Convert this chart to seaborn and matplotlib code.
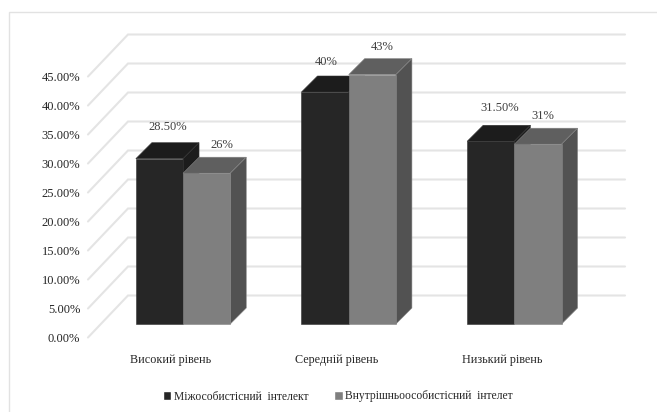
import pandas as pd
import matplotlib
matplotlib.use('Agg')
import matplotlib.pyplot as plt
import seaborn as sns
from matplotlib.patches import Polygon, Rectangle
from matplotlib.transforms import Affine2D

levels = ['Високий рівень', 'Середній рівень', 'Низький рівень']
interpersonal = [28.5, 40, 31.5]
intrapersonal = [26, 43, 31]
interpersonal_name = 'Міжособистісний  інтелект'
intrapersonal_name = 'Внутрішньоособистісний  інтелет'
interpersonal_labels = ['28.50%', '40%', '31.50%']
intrapersonal_labels = ['26%', '43%', '31%']
y_ticks = [0, 5, 10, 15, 20, 25, 30, 35, 40, 45]

# label shifts from the bar's top centre, in pixels
interpersonal_nudge = [(8, 32), (1, 30), (9, 33)]
intrapersonal_nudge = [(15, 28), (10, 28), (5, 28)]

W, H = 657, 412
PX_X = 497 / 3      # pixels per category
PX_Y = 261 / 45     # pixels per percent


def draw_depth(ax, bar, trans, top_color, side_color, edge, zorder):
    """Adds the top and side faces that make a flat bar look like a block."""
    dx, dy = 16 / PX_X, 16 / PX_Y
    x0, x1, h = bar.get_x(), bar.get_x() + bar.get_width(), bar.get_height()
    top = [(x0, h), (x1, h), (x1 + dx, h + dy), (x0 + dx, h + dy)]
    side = [(x1, 0), (x1 + dx, dy), (x1 + dx, h + dy), (x1, h)]
    for pts, color in ((top, top_color), (side, side_color)):
        ax.add_patch(Polygon(pts, closed=True, facecolor=color, edgecolor=edge, linewidth=0.4,
                             transform=trans, clip_on=False, zorder=zorder))


sns.set_theme(style='white')
plt.rcParams['font.family'] = ['Liberation Serif', 'DejaVu Serif']

df = pd.DataFrame({
    'level': levels * 2,
    'value': interpersonal + intrapersonal,
    'series': [interpersonal_name] * 3 + [intrapersonal_name] * 3,
})

fig = plt.figure(figsize=(W / 100, H / 100), dpi=100)
ax = fig.add_axes([88 / W, (H - 337.5) / H, 497 / W, 261 / H])
fig.add_artist(Rectangle((9 / W, -0.1), 1.1, (H - 12) / H + 0.1, transform=fig.transFigure,
                         facecolor='none', edgecolor='#e2e2e2', linewidth=1.0))

sns.barplot(data=df, x='level', y='value', hue='series', hue_order=[interpersonal_name, intrapersonal_name],
            palette=['#262626', '#7f7f7f'], width=0.57, gap=0, saturation=1, ax=ax)
ax.set_xlim(-0.5, 2.5)
ax.set_ylim(0, 45)
ax.set_yticks(y_ticks)
ax.set_yticklabels([f'{t:.2f}%' for t in y_ticks], fontsize=9, color='#262626')
ax.tick_params(axis='y', length=0, pad=5.5)
ax.tick_params(axis='x', length=0, pad=12, labelsize=8.7, labelcolor='#262626')
ax.set_xlabel('')
ax.set_ylabel('')
ax.patch.set_alpha(0)
sns.despine(ax=ax, left=True, bottom=True)

# walls: a diagonal from the tick up to the back plane, then across
wall_dx, wall_dy = 40 / PX_X, 42 / PX_Y
for t in y_ticks:
    ax.plot([-0.5, -0.5 + wall_dx, 2.5 + wall_dx], [t, t + wall_dy, t + wall_dy],
            color='#e4e4e4', linewidth=1.5, clip_on=False, zorder=1, solid_joinstyle='miter')

# bars sit part way into the floor, so they move right and up by a few pixels
bar_shift = Affine2D().translate(12.2, 13.5)
bar_trans = ax.transData + bar_shift

styles = [('#1c1c1c', '#1c1c1c', '#333333', interpersonal_labels, interpersonal_nudge),
          ('#5f5f5f', '#525252', '#858585', intrapersonal_labels, intrapersonal_nudge)]
for i, (container, style) in enumerate(zip(ax.containers, styles)):
    top_color, side_color, edge, labels, nudges = style
    z = 3 + i
    for bar, label, nudge in zip(container, labels, nudges):
        bar.set_transform(bar_trans)
        bar.set_clip_on(False)
        bar.set_edgecolor(edge)
        bar.set_linewidth(0.4)
        bar.set_zorder(z + 0.1)
        draw_depth(ax, bar, bar_trans, top_color, side_color, edge, z)
        ax.annotate(label, (bar.get_x() + bar.get_width() / 2, bar.get_height()), xycoords=bar_trans,
                    xytext=nudge, textcoords='offset pixels', ha='center', va='center',
                    fontsize=9, color='#404040', zorder=6, annotation_clip=False)

sns.move_legend(ax, 'center left', bbox_to_anchor=(152 / W, (H - 396.5) / H), bbox_transform=fig.transFigure,
                ncol=2, frameon=False, title=None, fontsize=8.4, handlelength=0.75, handleheight=0.85,
                handletextpad=0.2, columnspacing=2.2, labelcolor='#262626')

fig.savefig('out.png', dpi=100, facecolor='white')
